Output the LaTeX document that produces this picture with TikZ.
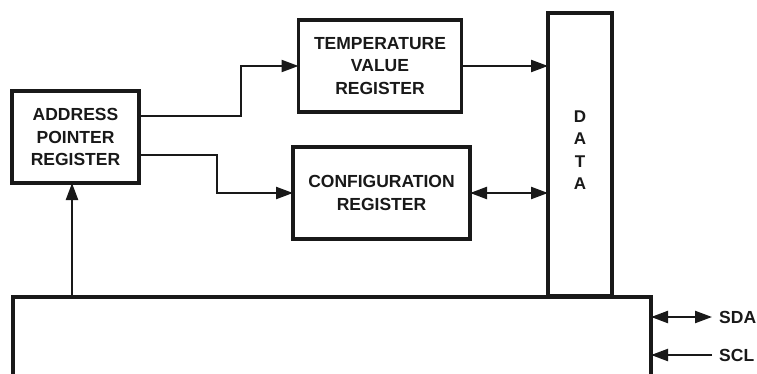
\documentclass[tikz,border=0pt]{standalone}
\usepackage{fontspec}
\setmainfont{Liberation Sans}
\usetikzlibrary{arrows.meta,calc}
\begin{document}
\begin{tikzpicture}[x=1pt,y=-1pt,
  lbl/.style={font=\fontsize{17.5}{22.5}\selectfont\bfseries, text=black!90},
  box/.style={draw=black!90, line width=3.2pt, inner sep=0pt, outer sep=0pt, align=center, lbl},
  tip/.style={},
  conn/.style={draw=black!90, line width=2.2pt, -{Triangle[length=17pt,width=12pt]}},
  dconn/.style={draw=black!90, line width=2.2pt, {Triangle[length=17pt,width=12pt]}-{Triangle[length=17pt,width=12pt]}}]
\useasboundingbox (0,0) rectangle (757,374);
\clip (0,0) rectangle (757,374);
\fill[white] (0,0) rectangle (757,374);
% boxes
\node[box, minimum width=127pt, minimum height=92pt] (addr) at (75.5,137) {ADDRESS\\POINTER\\REGISTER};
\node[box, minimum width=163pt, minimum height=92pt] (temp) at (380,66) {TEMPERATURE\\VALUE\\REGISTER};
\node[box, minimum width=177pt, minimum height=92pt] (conf) at (381.5,193) {CONFIGURATION\\REGISTER};
\node[box, minimum width=64pt, minimum height=283pt] (data) at (580,154.5) {};
\node[lbl, align=center, inner sep=0pt, font=\fontsize{17}{22.5}\selectfont\bfseries] (datal) at (580,150) {D\\A\\T\\A};
\node[box, minimum width=638pt, minimum height=140pt] (bus) at (332,367) {};
% labels
\node[lbl, inner sep=0pt, anchor=west] (sda) at (719,317) {SDA};
\node[lbl, inner sep=0pt, anchor=west] (scl) at (719,355) {SCL};
% connectors
\coordinate (up) at (72,0);
\draw[conn] (bus.north -| up) -- (addr.south -| up);
\draw[conn] ([yshift=21pt]addr.east) -- ++(102,0) |- (temp.west);
\draw[conn] ([yshift=-18pt]addr.east) -- ++(78,0) |- (conf.west);
\draw[conn] (temp.east) -- (temp.east -| data.west);
\draw[dconn] (conf.east) -- (conf.east -| data.west);
\draw[dconn] (bus.east |- sda) -- ([xshift=-7pt]sda.west);
\draw[conn] ([xshift=-7pt]scl.west) -- (bus.east |- scl);
\end{tikzpicture}
\end{document}
